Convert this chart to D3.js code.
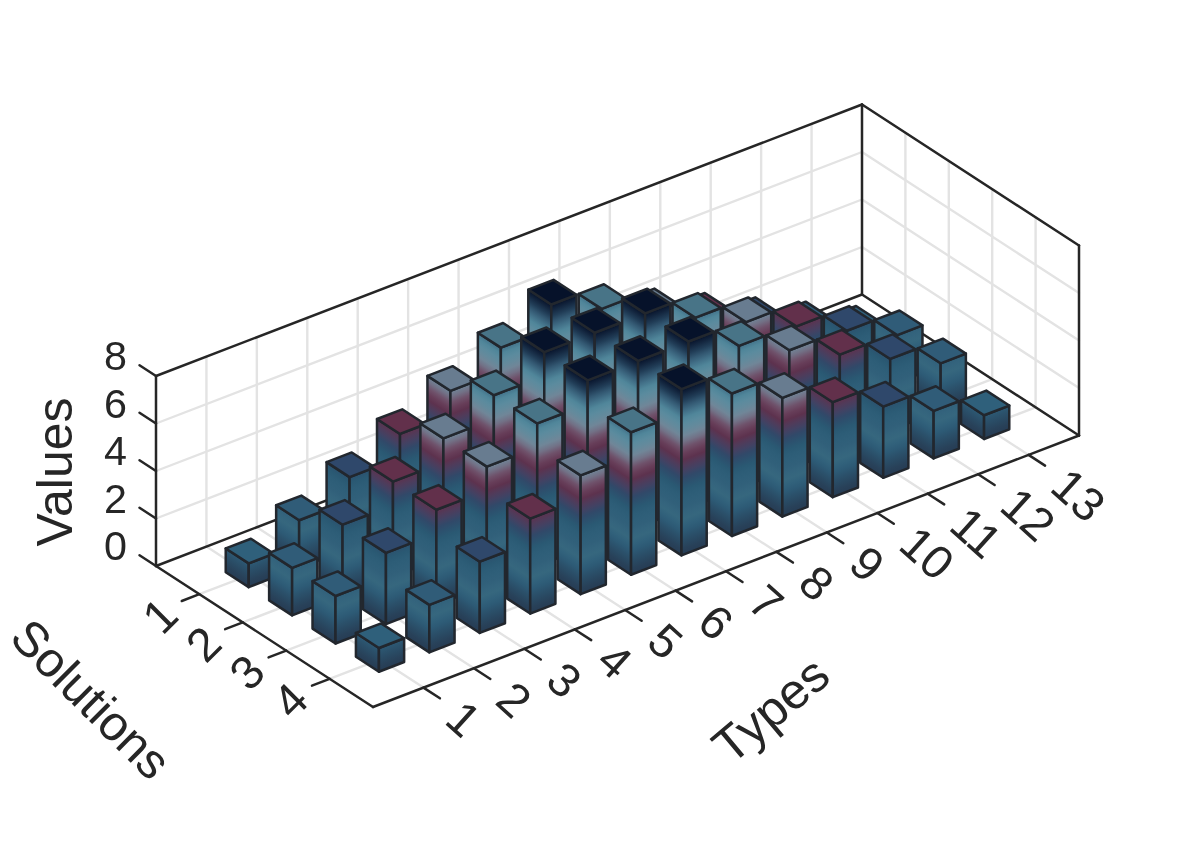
<!DOCTYPE html>
<html>
<head>
<meta charset="utf-8">
<script src="https://cdn.jsdelivr.net/npm/d3@7"></script>
<style>
html,body{margin:0;padding:0;background:#fff;}
svg{display:block;filter:blur(0.35px);}
text{font-family:"Liberation Sans",Arial,sans-serif;fill:#262626;}
</style>
</head>
<body>
<svg id="chart" width="1192" height="842"></svg>
<script>
const typeLabels = ["1","2","3","4","5","6","7","8","9","10","11","12","13"];
const solutionLabels = ["1","2","3","4"];
const valueTicks = [0,2,4,6,8];
const solution1 = [1,2,3,4,5,6,7,6,5,4,3,2,1];
const solution2 = [2,3,4,5,6,7,7,7,6,5,4,3,2];
const solution3 = [2,3,4,5,6,7,7,7,6,5,4,3,2];
const solution4 = [1,2,3,4,5,6,7,6,5,4,3,2,1];
const seriesBySolution = [solution1,solution2,solution3,solution4];

const colorHeights = [0,0.3,0.7,1.1,1.55,2,2.4,2.8,3.2,3.63,4.05,4.47,4.9,5.3,5.7,6.15,6.55,7];
const colorValues  = ["#263c54","#28425a","#2a4f69","#2e5d79","#37687f","#31607a","#2e5f79","#295872","#2e4a6a","#4a3f60","#60304c","#6f4e68","#748496","#628b9d","#538a9e","#3a637d","#1e3852","#07122a"];
const topHeights = [1,2,3,4,5,6,7];
const topColors  = ["#2f607b","#305c78","#2f486b","#62304b","#687c90","#487487","#06122a"];

const faceColor = d3.scaleLinear().domain(colorHeights).range(colorValues).interpolate(d3.interpolateRgb);
const topColor = d3.scaleOrdinal().domain(topHeights).range(topColors);

// oblique projection scales
const tX = d3.scaleLinear().domain([0,14]).range([0,706]);
const tY = d3.scaleLinear().domain([0,14]).range([0,-271.5]);
const sX = d3.scaleLinear().domain([0,5]).range([0,217]);
const sY = d3.scaleLinear().domain([0,5]).range([0,141]);
const zY = d3.scaleLinear().domain([0,8]).range([0,-190]);
const ORIGIN = [156,566];
const P = (t,s,z) => [ORIGIN[0]+tX(t)+sX(s), ORIGIN[1]+tY(t)+sY(s)+zY(z)];

const svg = d3.select("#chart");
const defs = svg.append("defs");
const path = d3.line();
const tMax = 14, sMax = 5, zMax = 8;

function seg(g,a,b,color,width){
  g.append("line").attr("x1",a[0]).attr("y1",a[1]).attr("x2",b[0]).attr("y2",b[1])
   .attr("stroke",color).attr("stroke-width",width).attr("stroke-linecap","round");
}

// grid
const grid = svg.append("g");
const GC = "#e3e3e3", GW = 2.4;
d3.range(1,tMax).forEach(t=>{
  seg(grid,P(t,0,0),P(t,0,zMax),GC,GW);
  seg(grid,P(t,0,0),P(t,sMax,0),GC,GW);
});
d3.range(1,sMax).forEach(s=>{
  seg(grid,P(tMax,s,0),P(tMax,s,zMax),GC,GW);
  seg(grid,P(0,s,0),P(tMax,s,0),GC,GW);
});
valueTicks.filter(v=>v>0&&v<zMax).forEach(v=>{
  seg(grid,P(0,0,v),P(tMax,0,v),GC,GW);
  seg(grid,P(tMax,0,v),P(tMax,sMax,v),GC,GW);
});

// axes box
const AC = "#262626", AW = 2.5;
const axes = svg.append("g");
[[[0,0,0],[0,0,zMax]],[[0,0,zMax],[tMax,0,zMax]],[[tMax,0,zMax],[tMax,sMax,zMax]],
 [[tMax,sMax,zMax],[tMax,sMax,0]],[[tMax,0,0],[tMax,0,zMax]],[[0,0,0],[tMax,0,0]],
 [[tMax,0,0],[tMax,sMax,0]],[[0,0,0],[0,sMax,0]],[[0,sMax,0],[tMax,sMax,0]]
].forEach(e=>seg(axes,P(...e[0]),P(...e[1]),AC,AW));

// ticks + labels
const TICK = 0.38, FS = 47, FS_Z = 41.3;
valueTicks.forEach(v=>{
  seg(axes,P(0,0,v),P(0,-TICK,v),AC,AW);
  const p = P(0,0,v);
  axes.append("text").attr("x",p[0]-29).attr("y",p[1]-20).attr("text-anchor","end")
      .attr("dominant-baseline","central").attr("font-size",FS_Z).text(v);
});
solutionLabels.forEach((l,i)=>{
  const s=i+1, a=P(0,s,0);
  seg(axes,a,P(-0.35,s,0),AC,AW);
  axes.append("text").attr("text-anchor","middle").attr("dominant-baseline","central")
      .attr("font-size",FS).attr("transform",`translate(${a[0]-39.5},${a[1]+21.5}) rotate(-45)`).text(l);
});
typeLabels.forEach((l,i)=>{
  const t=i+1, a=P(t,sMax,0);
  seg(axes,a,P(t,sMax+0.38,0),AC,AW);
  axes.append("text").attr("text-anchor","start").attr("dominant-baseline","central")
      .attr("font-size",FS).attr("transform",`translate(${a[0]+30.6},${a[1]+22.5}) rotate(42)`).text(l);
});
axes.append("text").attr("text-anchor","middle").attr("dominant-baseline","central").attr("font-size",50)
    .attr("transform","translate(55,472) rotate(-90)").text("Values");
axes.append("text").attr("text-anchor","middle").attr("dominant-baseline","central").attr("font-size",49)
    .attr("transform","translate(91,699) rotate(45)").text("Solutions");
axes.append("text").attr("text-anchor","middle").attr("dominant-baseline","central").attr("font-size",50)
    .attr("transform","translate(771,710) rotate(-40)").text("Types");

// bars
const W = 0.25, R = 0.265;
const ZGRAD = 7;
const stopOffsets = d3.range(0,ZGRAD+0.001,0.25);
const barsG = svg.append("g");
let gid = 0;
function faceGradient(a,b){
  // a,b : floor points of the face; iso-colour lines run parallel to a->b
  const dx=b[0]-a[0], dy=b[1]-a[1], L=Math.hypot(dx,dy);
  const nx=-dy/L, ny=dx/L;
  const topVec=[0, zY(ZGRAD)];
  const k = nx*topVec[0]+ny*topVec[1];
  const id="g"+(gid++);
  const lg=defs.append("linearGradient").attr("id",id).attr("gradientUnits","userSpaceOnUse")
    .attr("x1",a[0]).attr("y1",a[1]).attr("x2",a[0]+nx*k).attr("y2",a[1]+ny*k);
  stopOffsets.forEach(z=>lg.append("stop").attr("offset",z/ZGRAD).attr("stop-color",faceColor(z)));
  return `url(#${id})`;
}
const cells=[];
seriesBySolution.forEach((vals,si)=>vals.forEach((v,ti)=>cells.push({t:ti+1,s:si+1,v})));
cells.sort((a,b)=> (a.s-b.s) || (b.t-a.t));
cells.forEach(c=>{
  const g=barsG.append("g").attr("stroke","#22272e").attr("stroke-width",2.5).attr("stroke-linejoin","round");
  const a=P(c.t-W,c.s-R,0), b=P(c.t-W,c.s+R,0), d=P(c.t+W,c.s+R,0);
  g.append("path").attr("fill",faceGradient(a,b))
    .attr("d",path([a,b,P(c.t-W,c.s+R,c.v),P(c.t-W,c.s-R,c.v)])+"Z");
  g.append("path").attr("fill",faceGradient(b,d))
    .attr("d",path([b,d,P(c.t+W,c.s+R,c.v),P(c.t-W,c.s+R,c.v)])+"Z");
  g.append("path").attr("fill",topColor(c.v))
    .attr("d",path([P(c.t-W,c.s-R,c.v),P(c.t+W,c.s-R,c.v),P(c.t+W,c.s+R,c.v),P(c.t-W,c.s+R,c.v)])+"Z");
});
</script>
</body>
</html>
